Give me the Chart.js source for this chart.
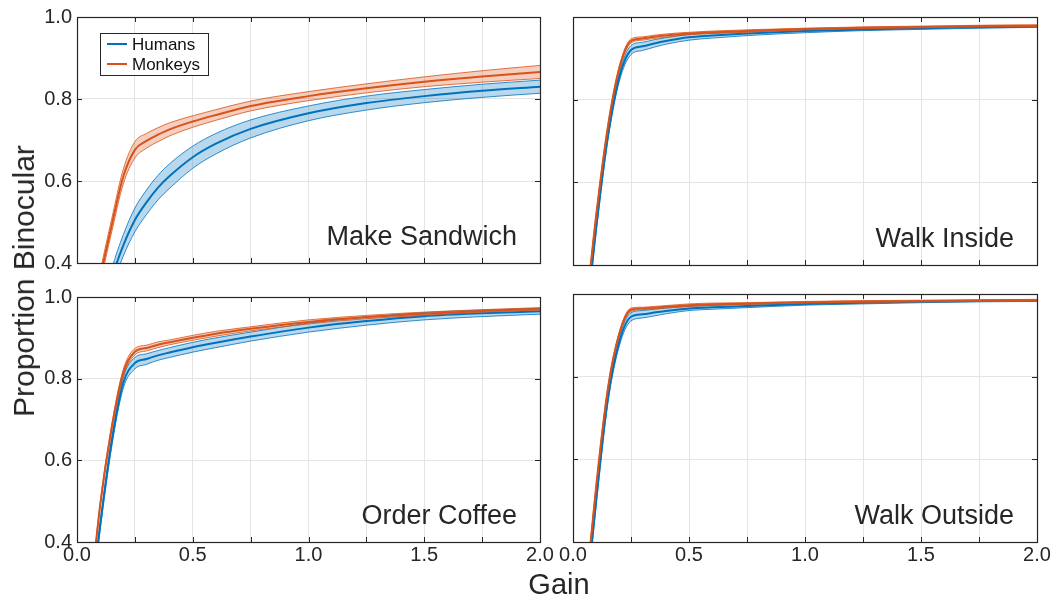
<!DOCTYPE html>
<html>
<head>
<meta charset="utf-8">
<script src="https://cdn.jsdelivr.net/npm/chart.js@4.4.0/dist/chart.umd.min.js"></script>
<style>
body { margin: 0; background: #fff; }
#wrap { position: relative; width: 1054px; height: 600px; font-family: 'Liberation Sans', Arial, Helvetica, sans-serif; color: #262626; overflow: hidden; }
canvas { position: absolute; }
.ttl { position: absolute; font-size: 29px; white-space: nowrap; transform: translate(-50%, -50%); }
#yt { transform: translate(-50%, -50%) rotate(-90deg); font-size: 30px; }
</style>
</head>
<body>
<div id="wrap">
  <canvas id="c1" width="555" height="280" style="left:0;top:0"></canvas>
  <canvas id="c2" width="499" height="280" style="left:555px;top:0"></canvas>
  <canvas id="c3" width="555" height="320" style="left:0;top:280px"></canvas>
  <canvas id="c4" width="499" height="320" style="left:555px;top:280px"></canvas>
  <div class="ttl" id="xt" style="left:559px;top:584px">Gain</div>
  <div class="ttl" id="yt" style="left:24px;top:281px">Proportion Binocular</div>
</div>
<script>
var gain = [0.05, 0.1, 0.15, 0.2, 0.25, 0.3, 0.35, 0.4, 0.5, 0.6, 0.75, 1.0, 1.25, 1.5, 1.75, 2.0];
var seriesNames = ['Humans', 'Monkeys'];
var panelNames = ['Make Sandwich', 'Walk Inside', 'Order Coffee', 'Walk Outside'];

// Make Sandwich
var sandwichHumans     = [0.15, 0.249, 0.362, 0.443, 0.505, 0.548, 0.584, 0.612, 0.658, 0.691, 0.727, 0.765, 0.790, 0.807, 0.820, 0.830];
var sandwichHumansErr  = [0.022, 0.022, 0.023, 0.026, 0.029, 0.030, 0.030, 0.030, 0.027, 0.025, 0.022, 0.018, 0.017, 0.016, 0.016, 0.016];
var sandwichMonkeys    = [0.22, 0.364, 0.492, 0.611, 0.676, 0.698, 0.713, 0.726, 0.745, 0.761, 0.783, 0.807, 0.826, 0.842, 0.855, 0.866];
var sandwichMonkeysErr = [0.015, 0.015, 0.016, 0.018, 0.020, 0.018, 0.017, 0.016, 0.014, 0.013, 0.012, 0.011, 0.011, 0.012, 0.014, 0.016];

// Walk Inside
var insideHumans     = [0.23, 0.49, 0.71, 0.855, 0.920, 0.929, 0.936, 0.942, 0.951, 0.955, 0.960, 0.966, 0.970, 0.973, 0.975, 0.977];
var insideHumansErr  = [0.008, 0.008, 0.009, 0.010, 0.011, 0.010, 0.009, 0.008, 0.007, 0.006, 0.005, 0.004, 0.003, 0.003, 0.002, 0.002];
var insideMonkeys    = [0.26, 0.52, 0.733, 0.877, 0.942, 0.948, 0.952, 0.955, 0.960, 0.963, 0.966, 0.971, 0.974, 0.976, 0.978, 0.979];
var insideMonkeysErr = [0.004, 0.004, 0.004, 0.005, 0.005, 0.004, 0.004, 0.004, 0.003, 0.003, 0.003, 0.002, 0.002, 0.002, 0.002, 0.002];

// Order Coffee
var coffeeHumans     = [0.20, 0.44, 0.645, 0.79, 0.838, 0.848, 0.857, 0.864, 0.877, 0.888, 0.903, 0.925, 0.941, 0.953, 0.960, 0.965];
var coffeeHumansErr  = [0.010, 0.010, 0.011, 0.013, 0.014, 0.013, 0.012, 0.012, 0.012, 0.012, 0.011, 0.011, 0.010, 0.009, 0.008, 0.007];
var coffeeMonkeys    = [0.22, 0.49, 0.68, 0.815, 0.866, 0.875, 0.883, 0.889, 0.900, 0.910, 0.922, 0.939, 0.951, 0.959, 0.966, 0.971];
var coffeeMonkeysErr = [0.006, 0.006, 0.007, 0.008, 0.008, 0.007, 0.007, 0.006, 0.006, 0.006, 0.005, 0.005, 0.004, 0.004, 0.003, 0.003];

// Walk Outside
var outsideHumans     = [0.22, 0.50, 0.745, 0.885, 0.945, 0.951, 0.955, 0.959, 0.965, 0.968, 0.971, 0.976, 0.979, 0.981, 0.983, 0.984];
var outsideHumansErr  = [0.008, 0.008, 0.009, 0.010, 0.010, 0.009, 0.008, 0.007, 0.005, 0.005, 0.004, 0.003, 0.003, 0.002, 0.002, 0.002];
var outsideMonkeys    = [0.25, 0.535, 0.77, 0.905, 0.962, 0.965, 0.967, 0.969, 0.973, 0.975, 0.977, 0.980, 0.982, 0.983, 0.984, 0.985];
var outsideMonkeysErr = [0.003, 0.003, 0.003, 0.004, 0.004, 0.003, 0.003, 0.003, 0.003, 0.003, 0.002, 0.002, 0.002, 0.002, 0.002, 0.002];

var blue = '#0072BD', blueFill = 'rgba(0,114,189,0.28)';
var orange = '#D95319', orangeFill = 'rgba(217,83,25,0.28)';
var axisColor = '#262626';

Chart.defaults.font.family = "'Liberation Sans', Arial, Helvetica, sans-serif";
Chart.defaults.color = '#262626';

function pts(mean, err, sign) {
	return mean.map(function(v, i) { return {x: gain[i], y: v + sign * err[i]}; });
}

function seriesSets(mean, err, color, fillColor, order) {
	var common = {pointRadius: 0, cubicInterpolationMode: 'monotone', clip: 0, order: order, borderColor: color};
	return [
		Object.assign({data: pts(mean, err, -1), borderWidth: 0.8, fill: false}, common),
		Object.assign({data: pts(mean, err, 1), borderWidth: 0.8, fill: '-1', backgroundColor: fillColor}, common),
		Object.assign({data: pts(mean, err, 0), borderWidth: 2, fill: false}, common)
	];
}

// box, inward ticks, panel name and legend
var panelDeco = {
	id: 'panelDeco',
	afterDraw: function(chart, args, opts) {
		var ctx = chart.ctx, a = chart.chartArea;
		var xs = chart.scales.x, ys = chart.scales.y;
		ctx.save();
		ctx.strokeStyle = axisColor;
		ctx.lineWidth = 1;
		ctx.beginPath();
		xs.ticks.forEach(function(t) {
			var px = Math.round(xs.getPixelForValue(t.value)) + 0.5;
			ctx.moveTo(px, a.bottom); ctx.lineTo(px, a.bottom - 5);
			ctx.moveTo(px, a.top); ctx.lineTo(px, a.top + 5);
		});
		ys.ticks.forEach(function(t) {
			var py = Math.round(ys.getPixelForValue(t.value)) + 0.5;
			ctx.moveTo(a.left, py); ctx.lineTo(a.left + 5, py);
			ctx.moveTo(a.right, py); ctx.lineTo(a.right - 5, py);
		});
		ctx.stroke();
		ctx.lineWidth = 1.2;
		ctx.strokeRect(Math.round(a.left) + 0.5, Math.round(a.top) + 0.5, Math.round(a.right - a.left), Math.round(a.bottom - a.top));

		ctx.fillStyle = '#262626';
		ctx.font = "27px 'Liberation Sans', Arial, sans-serif";
		ctx.textAlign = 'right';
		ctx.textBaseline = 'alphabetic';
		ctx.fillText(opts.text, a.right - 23, a.bottom - 18);

		if (opts.legend) {
			var lx = a.left + 23, ly = a.top + 16;
			ctx.fillStyle = '#fff';
			ctx.fillRect(lx, ly, 108, 42);
			ctx.lineWidth = 1;
			ctx.strokeStyle = axisColor;
			ctx.strokeRect(lx + 0.5, ly + 0.5, 108, 42);
			ctx.font = "17px 'Liberation Sans', Arial, sans-serif";
			ctx.textAlign = 'left';
			ctx.textBaseline = 'middle';
			[blue, orange].forEach(function(c, i) {
				var yy = ly + 11 + i * 20;
				ctx.strokeStyle = c;
				ctx.lineWidth = 2;
				ctx.beginPath();
				ctx.moveTo(lx + 7, yy); ctx.lineTo(lx + 27, yy);
				ctx.stroke();
				ctx.fillStyle = '#111';
				ctx.fillText(seriesNames[i], lx + 32, yy + 1);
			});
		}
		ctx.restore();
	}
};

function makePanel(id, label, hm, he, mm, me, showX, showY, legend, padTop, padRight) {
	var yWidth = showY ? 77 : 18;
	var xHeight = showX ? 58 : 15;
	var datasets = seriesSets(hm, he, blue, blueFill, 1).concat(seriesSets(mm, me, orange, orangeFill, 0));
	return new Chart(document.getElementById(id), {
		type: 'line',
		data: {datasets: datasets},
		plugins: [panelDeco],
		options: {
			responsive: false,
			animation: false,
			devicePixelRatio: 1,
			layout: {padding: {top: padTop, right: padRight, left: 0, bottom: 0}},
			plugins: {
				legend: {display: false},
				tooltip: {enabled: false},
				panelDeco: {text: label, legend: legend}
			},
			scales: {
				x: {
					type: 'linear', min: 0, max: 2,
					grid: {color: '#e4e4e4', drawTicks: false},
					border: {display: false},
					ticks: {
						display: showX, stepSize: 0.25, autoSkip: false, maxRotation: 0, padding: 1,
						font: {size: 20}, color: '#262626',
						callback: function(v) {
							return Math.abs(v * 2 - Math.round(v * 2)) < 1e-6 ? v.toFixed(1) : '';
						}
					},
					afterFit: function(s) { s.height = xHeight; }
				},
				y: {
					min: 0.4, max: 1.0,
					grid: {color: '#e4e4e4', drawTicks: false},
					border: {display: false},
					ticks: {
						display: showY, stepSize: 0.2, padding: 5,
						font: {size: 20}, color: '#262626',
						callback: function(v) { return v.toFixed(1); }
					},
					afterFit: function(s) { s.width = yWidth; }
				}
			}
		}
	});
}

makePanel('c1', panelNames[0], sandwichHumans, sandwichHumansErr, sandwichMonkeys, sandwichMonkeysErr, false, true, true, 17, 15);
makePanel('c2', panelNames[1], insideHumans, insideHumansErr, insideMonkeys, insideMonkeysErr, false, false, false, 17, 17);
makePanel('c3', panelNames[2], coffeeHumans, coffeeHumansErr, coffeeMonkeys, coffeeMonkeysErr, true, true, false, 14, 15);
makePanel('c4', panelNames[3], outsideHumans, outsideHumansErr, outsideMonkeys, outsideMonkeysErr, true, false, false, 14, 17);
</script>
</body>
</html>
